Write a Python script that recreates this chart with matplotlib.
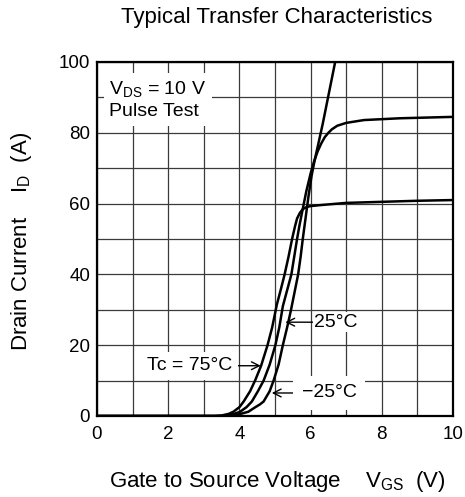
import matplotlib
matplotlib.use('Agg')
import matplotlib.pyplot as plt

plt.rcParams['font.family'] = ['Liberation Sans', 'DejaVu Sans']

# transfer curves (VGS in V, ID in A)
vgs_75 = [0, 3.3, 3.5, 3.7, 3.83, 4.0, 4.12, 4.3, 4.44, 4.61, 4.79, 4.92,
          5.05, 5.17, 5.27, 5.38, 5.48, 5.56, 5.62, 5.7, 5.78, 5.88, 6.0,
          6.3, 7.0, 8.0, 9.0, 10.0]
id_75 = [0, 0, 0.15, 0.6, 1.2, 2.5, 4.1, 7, 10, 14.2, 20, 25,
         31.4, 36, 40, 45, 50, 53.5, 55.8, 57.4, 58.4, 59.0, 59.3,
         59.6, 60.2, 60.5, 60.8, 61.0]

vgs_25 = [0, 3.45, 3.65, 3.85, 4.02, 4.2, 4.35, 4.52, 4.68, 4.85, 5.01, 5.12,
          5.22, 5.34, 5.46, 5.54, 5.62, 5.69, 5.76, 5.88, 6.0, 6.1, 6.2,
          6.3, 6.4, 6.5, 6.6, 6.75, 7.0, 7.5, 8.5, 10.0]
id_25 = [0, 0, 0.15, 0.6, 1.2, 2.5, 4.1, 7, 10, 14.5, 20, 25,
         31, 35.5, 40, 45, 50, 54, 57.5, 63.5, 68.5, 72, 74.8,
         77, 78.8, 80, 81, 82, 82.8, 83.6, 84.1, 84.5]

vgs_m25 = [0, 3.55, 3.8, 4.0, 4.25, 4.45, 4.58, 4.68, 4.85, 4.96, 5.1, 5.22,
           5.34, 5.45, 5.55, 5.65, 5.72, 5.78, 5.86, 5.94, 6.03, 6.12, 6.22,
           6.34, 6.51, 6.69]
id_m25 = [0, 0, 0.15, 0.5, 1.2, 2.5, 3.3, 4.1, 7, 10, 14.5, 20,
          25, 30, 35, 40, 45, 50, 56, 62, 68, 72.5, 77,
          82.5, 91, 100]

fig = plt.figure(figsize=(4.65, 4.97), dpi=100)
ax = fig.add_axes([97 / 465, 1 - 416 / 497, 356 / 465, 354 / 497])

for v, i in [(vgs_75, id_75), (vgs_25, id_25), (vgs_m25, id_m25)]:
    ax.plot(v, i, color='black', lw=1.8, solid_joinstyle='round', zorder=2)

ax.set_xlim(0, 10)
ax.set_ylim(0, 100)
ax.set_xticks(range(0, 11, 2))
ax.set_xticks(range(1, 10, 2), minor=True)
ax.set_yticks(range(0, 101, 20))
ax.set_yticks(range(10, 100, 20), minor=True)
ax.set_axisbelow(True)
ax.grid(True, which='both', color='#3a3a3a', lw=0.9)
ax.tick_params(which='both', length=0, labelsize=13.5)
ax.tick_params(axis='x', pad=7)
ax.tick_params(axis='y', pad=5)
for s in ax.spines.values():
    s.set_linewidth(1.6)

box = dict(facecolor='white', edgecolor='none')
ax.text(0.35, 89.3, 'V$_{\\mathregular{DS}}$ = 10 V\nPulse Test', fontsize=14,
        ha='left', va='center', linespacing=1.25, bbox=dict(box, pad=4))

arrow = dict(arrowstyle='->', color='black', lw=1.0, shrinkA=0, shrinkB=0)
ax.annotate('25°C', xy=(5.29, 26.5), xytext=(6.1, 26.5), fontsize=14,
            ha='left', va='center', arrowprops=arrow, bbox=dict(box, pad=1))
ax.annotate('Tc = 75°C', xy=(4.6, 14.2), xytext=(3.8, 14.2), fontsize=14,
            ha='right', va='center', arrowprops=arrow, bbox=dict(box, pad=4))
ax.annotate('\u221225°C', xy=(4.91, 6.5), xytext=(5.75, 6.5), fontsize=14,
            ha='left', va='center', arrowprops=arrow, bbox=dict(box, pad=6))

fig.text(277 / 465, 1 - 18 / 497, 'Typical Transfer Characteristics',
         fontsize=16, ha='center', va='center')
fig.text(277 / 465, 1 - 482 / 497,
         'Gate to Source Voltage    V$_{\\mathregular{GS}}$  (V)',
         fontsize=16, ha='center', va='center')
fig.text(22 / 465, 1 - 241 / 497,
         'Drain Current    I$_{\\mathregular{D}}$  (A)',
         fontsize=16, ha='center', va='center', rotation=90)

fig.savefig('out.png', dpi=100)
